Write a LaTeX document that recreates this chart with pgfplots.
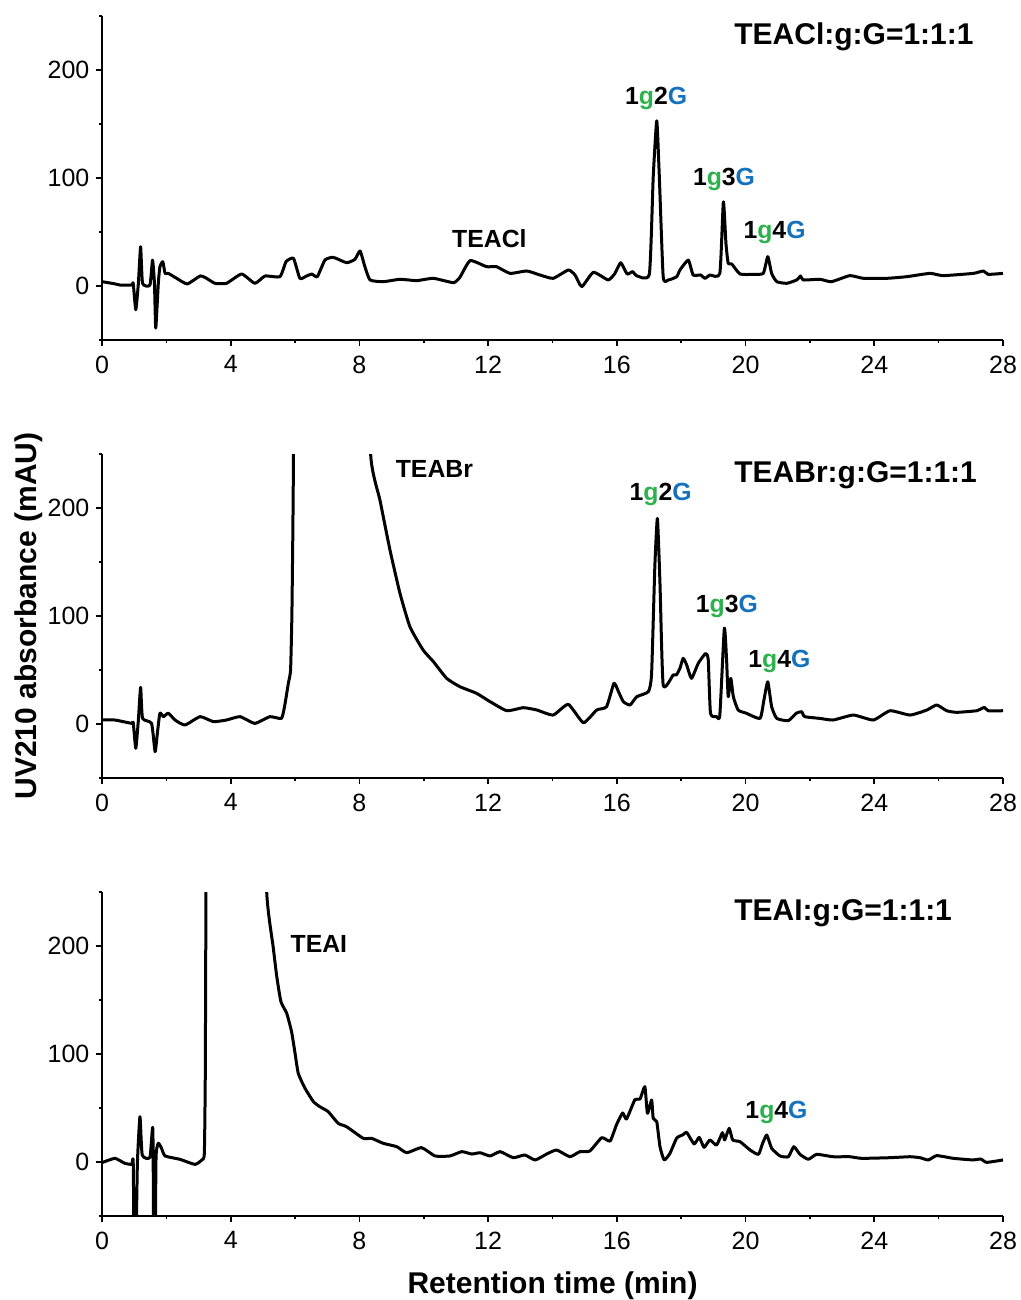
\documentclass[border=0pt]{standalone}
\usepackage{pgfplots}
\pgfplotsset{compat=1.18}
\usepackage{fontspec}
\setmainfont{Liberation Sans}
\definecolor{lgreen}{RGB}{43,178,76}
\definecolor{lblue}{RGB}{20,114,189}
\pgfplotsset{
 chrom/.style={
  scale only axis, width=450.5pt, height=162pt,
  xmin=0, xmax=28, ymin=-50, ymax=250,
  axis x line*=bottom, axis y line*=left,
  axis line style={-, line width=0.9pt},
  xtick={0,4,...,28}, minor xtick={2,6,...,26},
  ytick={0,100,200}, minor ytick={-50,50,150,250},
  tick align=outside,
  major tick length=2.8pt, minor tick length=1.6pt,
  every tick/.style={black, line width=0.8pt},
  tick label style={font=\fontsize{12.5}{14}\selectfont},
  xticklabel style={yshift=-1.5pt},
  /pgf/number format/assume math mode=true,
  clip=true,
 },
 trace/.style={black, line width=1.5pt, line join=round, mark=none, smooth, tension=0.3},
}
\newcommand{\pk}[1]{\fontsize{12.4}{14}\selectfont\bfseries #1}
\newcommand{\lab}[1]{1\textcolor{lgreen}{g}#1\textcolor{lblue}{G}}
\begin{document}
\begin{tikzpicture}
\useasboundingbox (0pt,0pt) rectangle (510.5pt,-650pt);
% Panel 1
\begin{axis}[chrom, at={(51pt,-170pt)}, anchor=south west]
\addplot[trace] coordinates {(0,4) (0.4,2) (0.56,0.9) (0.92,0.9) (0.97,2.5) (1.05,-22) (1.13,2.5) (1.20,36.4) (1.26,2.5) (1.49,0.9) (1.57,24) (1.63,2.5) (1.67,-39) (1.75,2.5) (1.80,17.9) (1.89,22.5) (1.96,11.7) (2.06,11.7) (2.32,7.1) (2.65,1.9) (3.05,9.3) (3.25,7.1) (3.51,2.5) (3.87,2.5) (4.34,11.1) (4.75,2.5) (5.07,9.3) (5.53,8.6) (5.72,22.5) (5.95,25.6) (6.15,7.1) (6.36,9.3) (6.52,11.1) (6.69,8.6) (6.93,24.1) (7.19,26.5) (7.60,21.6) (7.86,24.7) (8.02,32.4) (8.17,17.9) (8.33,5.6) (8.74,4) (9.26,6.2) (9.78,5) (10.30,7.1) (10.92,3.1) (11.12,8) (11.44,23.5) (11.95,17.9) (12.26,17.9) (12.68,11.7) (13.20,13.9) (13.61,10.2) (14.02,7.1) (14.49,14.8) (14.70,10.2) (14.91,-0.6) (15.27,12.7) (15.73,5.6) (15.94,11.7) (16.12,21.6) (16.32,11.1) (16.49,13.3) (16.61,9.6) (17.01,11.1) (17.13,101) (17.24,153) (17.32,101) (17.44,8.6) (17.60,5.6) (17.86,8.6) (17.96,14.8) (18.22,24) (18.37,10.2) (18.60,10.2) (18.74,7.1) (18.89,10.2) (19.20,11.7) (19.31,78) (19.39,39.5) (19.46,21) (19.57,20.4) (19.83,11.1) (20.24,10.8) (20.55,11.7) (20.69,27.2) (20.81,11.7) (20.97,4) (21.28,2.5) (21.59,5.6) (21.71,9.3) (21.79,5.6) (22.31,6.2) (22.67,4) (23.24,9.6) (23.66,7.1) (24.38,7.1) (25.00,8.6) (25.73,11.7) (26.14,9.6) (27.08,11.7) (27.39,13.9) (27.54,10.8) (28,11.7)};
\node[anchor=base west, inner sep=0pt, font=\fontsize{15}{17}\selectfont\bfseries] at (axis cs:19.64,224) {TEACl:g:G=1:1:1};
\node[anchor=base] at (axis cs:12.04,36.1) {\pk{TEACl}};
\node[anchor=base] at (axis cs:17.22,167.6) {\pk{\lab{2}}};
\node[anchor=base] at (axis cs:19.33,93.5) {\pk{\lab{3}}};
\node[anchor=base] at (axis cs:20.9,44.4) {\pk{\lab{4}}};
\end{axis}
% Panel 2
\begin{axis}[chrom, at={(51pt,-389pt)}, anchor=south west]
\addplot[trace] coordinates {(0,3.7) (0.40,3.7) (0.92,0.6) (0.97,1.5) (1.05,-22.5) (1.13,3.7) (1.20,34) (1.26,5.3) (1.54,0.6) (1.65,-25.6) (1.72,-8.6) (1.80,10) (1.91,6.8) (2.06,10) (2.27,3.7) (2.58,-0.9) (3.05,6.8) (3.46,2.2) (3.87,3.7) (4.29,6.8) (4.75,0.6) (5.22,6.8) (5.58,5.3) (5.69,19.1) (5.79,37.6) (5.86,49.9) (5.90,99) (5.93,176) (5.95,249) (5.97,420) (8.20,420) (8.35,249) (8.64,207) (8.95,161) (9.26,121) (9.57,90) (9.98,68.5) (10.30,57.7) (10.71,42.3) (11.12,34.6) (11.64,28.4) (12.06,20.7) (12.58,12.3) (13.09,15.1) (13.51,13) (14.02,8.3) (14.49,18.2) (14.96,1.2) (15.37,12.9) (15.68,16) (15.91,37.7) (16.05,30) (16.20,20.7) (16.41,17.6) (16.62,25.3) (16.98,30) (17.08,46.9) (17.18,145.7) (17.26,190.4) (17.34,130.2) (17.44,36.1) (17.75,45.4) (17.85,45.4) (17.96,51.5) (18.06,60.8) (18.17,54.6) (18.32,42.3) (18.53,56.2) (18.76,65.4) (18.84,59.2) (18.91,9.9) (19.10,6.8) (19.20,8.3) (19.34,88.6) (19.41,59.2) (19.46,25.3) (19.54,42.3) (19.62,25.3) (19.77,12.9) (20.03,9.9) (20.45,5.2) (20.57,22.2) (20.69,39.1) (20.81,16) (20.97,5.2) (21.33,3.1) (21.57,9.9) (21.74,11.4) (21.84,6.8) (22.31,5.2) (22.72,3.7) (23.35,8.3) (23.97,3.7) (24.49,12.3) (25.11,8.3) (25.63,12.9) (25.94,17.6) (26.25,12.3) (26.56,10.8) (27.18,12.3) (27.42,15.4) (27.54,12.3) (28,12.3)};
\node[anchor=base west, inner sep=0pt, font=\fontsize{15}{17}\selectfont\bfseries] at (axis cs:19.64,224) {TEABr:g:G=1:1:1};
\node[anchor=base] at (axis cs:10.33,228.7) {\pk{TEABr}};
\node[anchor=base] at (axis cs:17.36,207.4) {\pk{\lab{2}}};
\node[anchor=base] at (axis cs:19.42,102.8) {\pk{\lab{3}}};
\node[anchor=base] at (axis cs:21.05,51.9) {\pk{\lab{4}}};
\end{axis}
% Panel 3
\begin{axis}[chrom, at={(51pt,-608pt)}, anchor=south west]
\addplot[trace] coordinates {(0,-0.6) (0.40,3.4) (0.71,-1.2) (0.92,-2.2) (0.97,0.3) (1.00,-90) (1.05,-90) (1.10,-1.2) (1.18,42) (1.25,6.5) (1.49,4.3) (1.58,31) (1.61,-90) (1.65,-90) (1.68,5) (1.75,17.3) (1.85,12.7) (1.96,5.6) (2.42,2.5) (2.89,-2.2) (3.10,1.9) (3.18,8) (3.21,82) (3.23,249) (3.25,420) (4.95,420) (5.12,249) (5.32,199) (5.43,172) (5.56,148.5) (5.74,137.7) (5.89,120.8) (6.00,100.6) (6.10,82) (6.31,68.2) (6.57,55.9) (6.77,51.2) (7.03,46.6) (7.34,35.8) (7.60,32.7) (8.12,21.9) (8.38,21.9) (8.74,17.3) (9.16,14.2) (9.47,8.6) (9.93,13.3) (10.35,5.6) (10.81,5.6) (11.18,9.6) (11.49,7.4) (11.75,8.6) (12.06,5.6) (12.37,9.6) (12.78,4) (13.14,6.5) (13.46,1.9) (13.82,7.4) (14.13,11.1) (14.54,4.9) (14.85,9.6) (15.16,10.2) (15.53,22.5) (15.79,19.4) (15.99,34.6) (16.18,45.4) (16.30,39.8) (16.56,57.7) (16.72,58.3) (16.87,69.8) (16.95,45.1) (17.08,57.4) (17.13,40.4) (17.24,37.3) (17.34,14.2) (17.47,1.9) (17.65,8) (17.86,22.2) (18.06,25.3) (18.17,27.5) (18.40,16.7) (18.56,22.8) (18.71,13.6) (18.89,20.4) (19.10,15.7) (19.28,27.2) (19.35,20.4) (19.49,31.2) (19.60,20.4) (19.83,18.8) (20.14,11.1) (20.40,7.1) (20.53,17.3) (20.66,25) (20.81,12.7) (21.07,5.6) (21.33,4.9) (21.50,14.2) (21.69,7.1) (21.95,2.5) (22.21,7.1) (22.72,4.9) (23.24,4.9) (23.61,3.4) (24.49,4) (25.11,4.9) (25.42,4) (25.68,1.9) (25.94,5.9) (26.46,3.4) (27.08,1.9) (27.31,2.8) (27.49,-0.3) (28,1.9)};
\node[anchor=base west, inner sep=0pt, font=\fontsize{15}{17}\selectfont\bfseries] at (axis cs:19.64,224) {TEAI:g:G=1:1:1};
\node[anchor=base] at (axis cs:6.74,194.4) {\pk{TEAI}};
\node[anchor=base] at (axis cs:20.96,40.7) {\pk{\lab{4}}};
\end{axis}
\node[anchor=base, rotate=90, font=\fontsize{15}{17}\selectfont\bfseries] at (18pt,-308pt) {UV210 absorbance (mAU)};
\node[anchor=base, font=\fontsize{15}{17}\selectfont\bfseries] at (276.25pt,-646.5pt) {Retention time (min)};
\end{tikzpicture}
\end{document}
